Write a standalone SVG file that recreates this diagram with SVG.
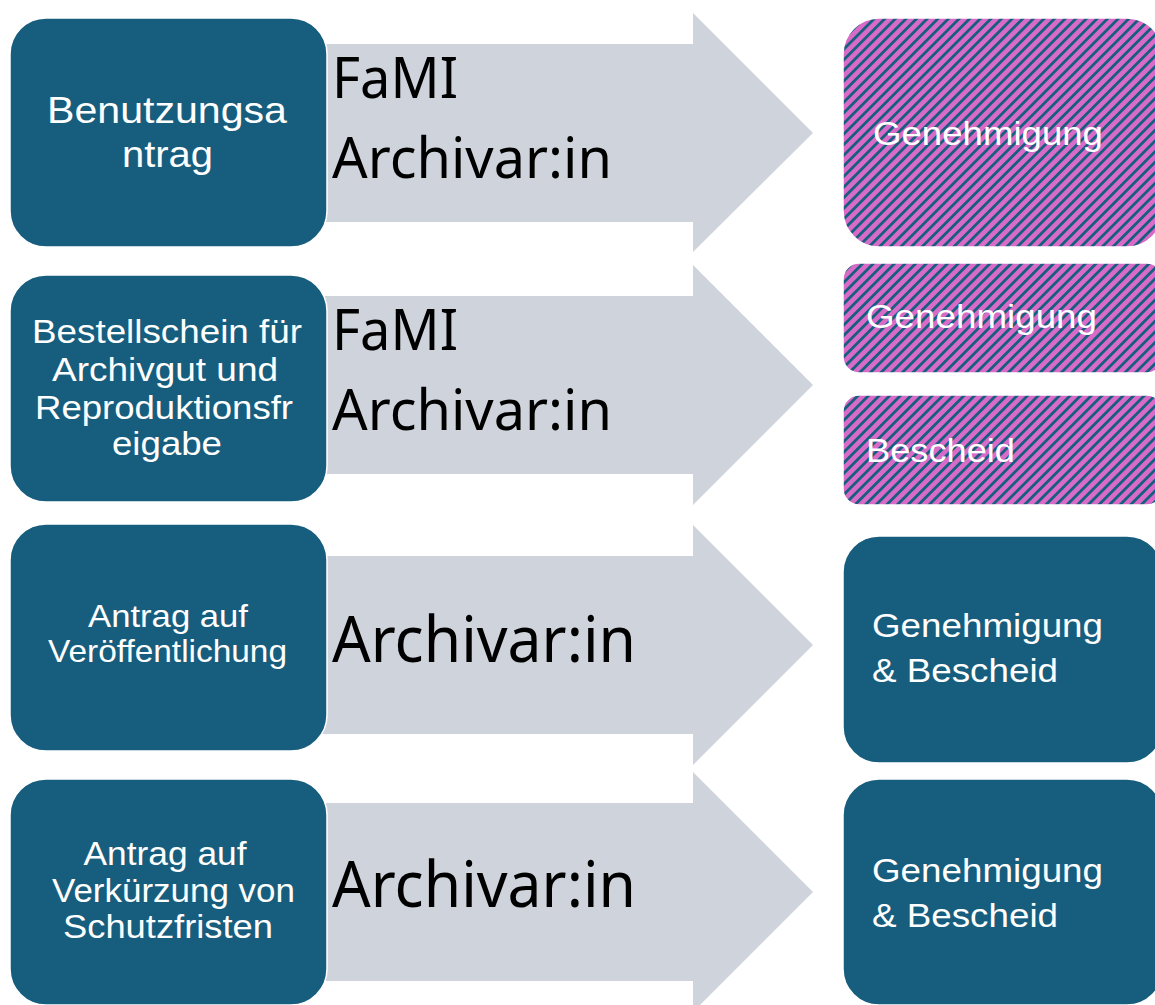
<svg xmlns="http://www.w3.org/2000/svg" width="1155" height="1005" viewBox="0 0 1155 1005">
<style>
.box{fill:#175e7e;stroke:#ffffff;stroke-width:1.5}
.hatch{fill:url(#hatch);stroke:#ffffff;stroke-width:1.5}
.arrow{fill:#cfd4dc}
.lt{font-family:"Liberation Sans",Arial,sans-serif;fill:#ffffff;text-anchor:middle}
.rt{font-family:"Liberation Sans",Arial,sans-serif;fill:#ffffff;font-size:33px}
.mid{font-family:"Noto Sans","Open Sans",sans-serif;fill:#000000}
</style>
<defs>
<pattern id="hatch" width="7.5" height="7.5" patternUnits="userSpaceOnUse" patternTransform="rotate(45)">
<rect width="7.5" height="7.5" fill="#d86bc8"/>
<rect width="2.8" height="7.5" fill="#175e7e"/>
</pattern>
</defs>
<rect width="1155" height="1005" fill="#ffffff"/>
<g id="connectors">
<path class="arrow" d="M300,44 H693 V13 L813,133 L693,252 V222 H300 Z"/>
<path class="arrow" d="M300,296 H693 V265 L813,385 L693,505 V474 H300 Z"/>
<path class="arrow" d="M300,556 H693 V525 L813,645 L693,765 V734 H300 Z"/>
<path class="arrow" d="M300,803 H693 V772 L813,892 L693,1012 V981 H300 Z"/>
</g>
<g id="label1">
<text class="mid" x="332" y="98" font-size="57" textLength="126" lengthAdjust="spacingAndGlyphs">FaMI</text>
<text class="mid" x="332" y="178" font-size="57" textLength="280" lengthAdjust="spacingAndGlyphs">Archivar:in</text>
</g>
<g id="label2">
<text class="mid" x="332" y="350" font-size="57" textLength="126" lengthAdjust="spacingAndGlyphs">FaMI</text>
<text class="mid" x="332" y="430" font-size="57" textLength="280" lengthAdjust="spacingAndGlyphs">Archivar:in</text>
</g>
<g id="label3">
<text class="mid" x="332" y="662" font-size="63" textLength="304" lengthAdjust="spacingAndGlyphs">Archivar:in</text>
</g>
<g id="label4">
<text class="mid" x="332" y="907" font-size="63" textLength="304" lengthAdjust="spacingAndGlyphs">Archivar:in</text>
</g>
<g id="src1">
<rect class="box" x="10" y="18" width="317" height="229" rx="36"/>
<text class="lt" font-size="37"><tspan x="167" y="123" textLength="240" lengthAdjust="spacingAndGlyphs">Benutzungsa</tspan><tspan x="167.5" y="167" textLength="91" lengthAdjust="spacingAndGlyphs">ntrag</tspan></text>
</g>
<g id="src2">
<rect class="box" x="10" y="275" width="317" height="227" rx="36"/>
<text class="lt" font-size="34"><tspan x="167" y="343" textLength="270" lengthAdjust="spacingAndGlyphs">Bestellschein für</tspan><tspan x="165" y="381" textLength="226" lengthAdjust="spacingAndGlyphs">Archivgut und</tspan><tspan x="164" y="419" textLength="258" lengthAdjust="spacingAndGlyphs">Reproduktionsfr</tspan><tspan x="167" y="455" textLength="110" lengthAdjust="spacingAndGlyphs">eigabe</tspan></text>
</g>
<g id="src3">
<rect class="box" x="10" y="524" width="317" height="227" rx="36"/>
<text class="lt" font-size="32"><tspan x="168" y="627" textLength="160" lengthAdjust="spacingAndGlyphs">Antrag auf</tspan><tspan x="167.5" y="662" textLength="239" lengthAdjust="spacingAndGlyphs">Veröffentlichung</tspan></text>
</g>
<g id="src4">
<rect class="box" x="10" y="779" width="317" height="226" rx="36"/>
<text class="lt" font-size="33"><tspan x="165" y="865" textLength="163" lengthAdjust="spacingAndGlyphs">Antrag auf</tspan><tspan x="173.5" y="902" textLength="243" lengthAdjust="spacingAndGlyphs">Verkürzung von</tspan><tspan x="168" y="938" textLength="210" lengthAdjust="spacingAndGlyphs">Schutzfristen</tspan></text>
</g>
<g id="res1">
<rect class="hatch" x="843" y="18" width="320" height="229" rx="36"/>
<text class="rt" x="873" y="145" textLength="230" lengthAdjust="spacingAndGlyphs">Genehmigung</text>
</g>
<g id="res2a">
<rect class="hatch" x="843" y="263" width="320" height="110" rx="16"/>
<text class="rt" x="866" y="328" textLength="231" lengthAdjust="spacingAndGlyphs">Genehmigung</text>
</g>
<g id="res2b">
<rect class="hatch" x="843" y="395" width="320" height="110" rx="16"/>
<text class="rt" x="866" y="462" textLength="149" lengthAdjust="spacingAndGlyphs">Bescheid</text>
</g>
<g id="res3">
<rect class="box" x="843" y="536" width="320" height="227" rx="36"/>
<text class="rt" x="872" y="637" textLength="231" lengthAdjust="spacingAndGlyphs">Genehmigung</text>
<text class="rt" x="872" y="682" textLength="186" lengthAdjust="spacingAndGlyphs">&amp; Bescheid</text>
</g>
<g id="res4">
<rect class="box" x="843" y="779" width="320" height="226" rx="36"/>
<text class="rt" x="872" y="882" textLength="231" lengthAdjust="spacingAndGlyphs">Genehmigung</text>
<text class="rt" x="872" y="927" textLength="186" lengthAdjust="spacingAndGlyphs">&amp; Bescheid</text>
</g>
</svg>
